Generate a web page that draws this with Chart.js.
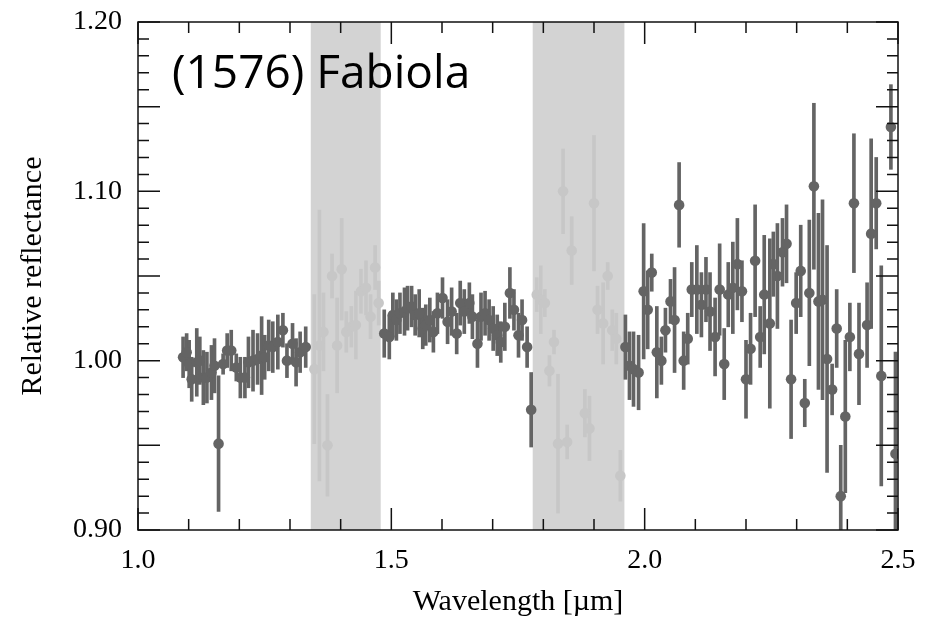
<!DOCTYPE html>
<html>
<head>
<meta charset="utf-8">
<script src="https://cdn.jsdelivr.net/npm/chart.js@4.4.1/dist/chart.umd.min.js"></script>
<style>
    html, body { margin: 0; padding: 0; background: #ffffff; }
    #wrap { width: 930px; height: 622px; }
</style>
</head>
<body>
<div id="wrap"><canvas id="myChart"></canvas></div>
<script>

var titulo = '(1576) Fabiola'

// points outside the telluric bands
var wave = [1.089, 1.096, 1.101, 1.106, 1.116, 1.122, 1.129, 1.136, 1.145, 1.151, 1.159, 1.168, 1.176, 1.184, 1.194, 1.202,
    1.211, 1.218, 1.227, 1.236, 1.244, 1.250, 1.258, 1.266, 1.276, 1.286, 1.294, 1.305, 1.312, 1.320, 1.331,
    1.486, 1.496, 1.503, 1.510, 1.517, 1.526, 1.532, 1.540, 1.547, 1.555, 1.562, 1.568, 1.576, 1.583, 1.591, 1.601,
    1.611, 1.619, 1.629, 1.636, 1.644, 1.654, 1.660, 1.670, 1.677, 1.685, 1.693, 1.701, 1.709, 1.716, 1.724, 1.734,
    1.742, 1.751, 1.758, 1.768, 1.776,
    1.962, 1.970, 1.978, 1.988, 1.998, 2.006, 2.014, 2.024, 2.033, 2.041, 2.051, 2.059, 2.068, 2.077, 2.085, 2.093,
    2.103, 2.112, 2.121, 2.129, 2.139, 2.148, 2.157, 2.165, 2.174, 2.183, 2.192, 2.200, 2.209, 2.218, 2.228, 2.236,
    2.247, 2.254, 2.262, 2.272, 2.280, 2.289, 2.299, 2.308, 2.316, 2.325, 2.334, 2.343, 2.351, 2.360, 2.370, 2.379,
    2.387, 2.396, 2.405, 2.413, 2.423, 2.439, 2.447, 2.457, 2.467, 2.486, 2.495]

var refl = [1.002, 1.005, 0.998, 0.989, 0.999, 1.000, 0.990, 0.990, 0.993, 0.997, 0.951, 0.998, 1.006, 1.006, 0.996, 0.990,
    0.990, 0.999, 1.000, 1.001, 1.003, 1.002, 1.009, 1.008, 1.011, 1.018, 1.000, 1.010, 0.999, 1.005, 1.008,
    1.016, 1.014, 1.027, 1.024, 1.028, 1.029, 1.031, 1.032, 1.027, 1.028, 1.019, 1.021, 1.024, 1.017, 1.028, 1.037,
    1.023, 1.029, 1.016, 1.034, 1.029, 1.034, 1.026, 1.010, 1.026, 1.028, 1.024, 1.019, 1.015, 1.011, 1.020, 1.040,
    1.030, 1.015, 1.024, 1.008, 0.971,
    1.008, 0.997, 0.995, 0.993, 1.041, 1.030, 1.052, 1.005, 1.000, 1.018, 1.035, 1.024, 1.092, 1.000, 1.013, 1.042,
    1.042, 1.033, 1.042, 1.029, 1.014, 1.042, 0.998, 1.039, 1.043, 1.057, 1.041, 0.989, 1.007, 1.059, 1.014, 1.039,
    1.022, 1.057, 1.050, 1.064, 1.069, 0.989, 1.034, 1.053, 0.975, 1.040, 1.103, 1.035, 1.036, 1.001, 0.983, 1.019,
    0.920, 0.967, 1.014, 1.093, 1.004, 1.021, 1.075, 1.093, 0.991, 1.138, 0.945]

var erro = [0.012, 0.011, 0.014, 0.013, 0.020, 0.014, 0.016, 0.015, 0.016, 0.016, 0.040, 0.006, 0.010, 0.012, 0.008, 0.012,
    0.012, 0.015, 0.018, 0.015, 0.023, 0.013, 0.015, 0.015, 0.016, 0.010, 0.010, 0.012, 0.014, 0.012, 0.012,
    0.014, 0.013, 0.013, 0.012, 0.012, 0.014, 0.013, 0.012, 0.012, 0.014, 0.012, 0.012, 0.013, 0.012, 0.012, 0.012,
    0.013, 0.014, 0.012, 0.013, 0.013, 0.012, 0.013, 0.014, 0.014, 0.013, 0.012, 0.013, 0.012, 0.012, 0.014, 0.015,
    0.012, 0.013, 0.012, 0.012, 0.022,
    0.019, 0.020, 0.022, 0.022, 0.040, 0.023, 0.011, 0.027, 0.014, 0.013, 0.013, 0.031, 0.025, 0.017, 0.015, 0.016,
    0.026, 0.019, 0.019, 0.023, 0.023, 0.027, 0.021, 0.019, 0.027, 0.027, 0.018, 0.023, 0.021, 0.033, 0.018, 0.035,
    0.050, 0.019, 0.031, 0.020, 0.023, 0.035, 0.018, 0.027, 0.014, 0.043, 0.049, 0.052, 0.059, 0.067, 0.015, 0.023,
    0.030, 0.045, 0.020, 0.041, 0.030, 0.025, 0.056, 0.027, 0.065, 0.025, 0.060]

// points inside the shaded bands (drawn faint)
var waveBanda = [1.348, 1.358, 1.366, 1.374, 1.383, 1.393, 1.402, 1.411, 1.421, 1.430, 1.440, 1.450, 1.459, 1.468, 1.475,
    1.787, 1.795, 1.803, 1.812, 1.821, 1.829, 1.839, 1.847, 1.856, 1.882, 1.891, 1.900, 1.907, 1.918, 1.927, 1.936,
    1.944, 1.952]
var reflBanda = [0.995, 1.009, 1.017, 0.950, 1.050, 1.009, 1.054, 1.017, 1.020, 1.021, 1.041, 1.043, 1.026, 1.055, 1.034,
    1.039, 1.036, 1.034, 0.994, 1.011, 0.951, 1.100, 0.952, 1.065, 0.969, 0.960, 1.093, 1.030, 1.022, 1.050, 1.018,
    1.013, 0.932]
var erroBanda = [0.044, 0.080, 0.023, 0.030, 0.013, 0.028, 0.030, 0.012, 0.012, 0.020, 0.013, 0.016, 0.013, 0.013, 0.013,
    0.010, 0.020, 0.008, 0.009, 0.007, 0.041, 0.025, 0.010, 0.020, 0.014, 0.019, 0.040, 0.014, 0.024, 0.008, 0.012,
    0.015, 0.015]

var bandas = [[1.341, 1.479], [1.779, 1.960]]

var xTicks = [1.0, 1.5, 2.0, 2.5]
var yTicks = [0.90, 1.00, 1.10, 1.20]

var corPonto = '#646464'
var corFraca = '#c7c7c7'
var corBanda = '#d3d3d3'

function montarPontos(xs, ys) {
    var lista = []
    for (var i = 0; i < xs.length; i++) {
        lista.push({ x: xs[i], y: ys[i] })
    }
    return lista
}

function montarBarras(xs, ys, es) {
    var lista = []
    for (var i = 0; i < xs.length; i++) {
        lista.push({ x: xs[i], y: [ys[i] - es[i], ys[i] + es[i]] })
    }
    return lista
}

// shaded bands behind the data
var pluginBandas = {
    id: 'bandas',
    beforeDatasetsDraw: function (chart) {
        var ctx = chart.ctx
        var area = chart.chartArea
        var x = chart.scales.x
        ctx.save()
        ctx.fillStyle = corBanda
        for (var i = 0; i < bandas.length; i++) {
            var x0 = x.getPixelForValue(bandas[i][0])
            var x1 = x.getPixelForValue(bandas[i][1])
            ctx.fillRect(x0, area.top, x1 - x0, area.bottom - area.top)
        }
        ctx.restore()
    }
}

// frame, inward ticks on all four sides, label text
var pluginMoldura = {
    id: 'moldura',
    afterDraw: function (chart) {
        var ctx = chart.ctx
        var area = chart.chartArea
        var sx = chart.scales.x
        var sy = chart.scales.y
        ctx.save()
        ctx.strokeStyle = '#111111'
        ctx.lineWidth = 1.5
        ctx.strokeRect(area.left, area.top, area.right - area.left, area.bottom - area.top)

        ctx.beginPath()
        sy.ticks.forEach(function (t) {
            var py = sy.getPixelForValue(t.value)
            var centesimos = Math.round(t.value * 100)
            var len = (centesimos % 5 === 0) ? 22 : 11
            ctx.moveTo(area.left, py)
            ctx.lineTo(area.left + len, py)
            ctx.moveTo(area.right, py)
            ctx.lineTo(area.right - len, py)
        })
        sx.ticks.forEach(function (t) {
            var px = sx.getPixelForValue(t.value)
            var decimos = Math.round(t.value * 10)
            var len = (decimos % 5 === 0) ? 22 : 11
            ctx.moveTo(px, area.bottom)
            ctx.lineTo(px, area.bottom - len)
            ctx.moveTo(px, area.top)
            ctx.lineTo(px, area.top + len)
        })
        ctx.stroke()

        ctx.fillStyle = '#000000'
        ctx.font = '46px "Open Sans"'
        ctx.textBaseline = 'alphabetic'
        ctx.textAlign = 'left'
        ctx.fillText(titulo, area.left + 34, area.top + 66)
        ctx.restore()
    }
}

var ctx = document.getElementById('myChart')

var grafico = new Chart(ctx, {
    type: 'scatter',
    data: {
        datasets: [
            {
                type: 'scatter',
                data: montarPontos(wave, refl),
                backgroundColor: corPonto,
                borderWidth: 0,
                pointRadius: 5.3,
                order: 1
            },
            {
                type: 'bar',
                data: montarBarras(wave, refl, erro),
                backgroundColor: corPonto,
                borderWidth: 0,
                barThickness: 3,
                grouped: false,
                order: 2
            },
            {
                type: 'scatter',
                data: montarPontos(waveBanda, reflBanda),
                backgroundColor: corFraca,
                borderWidth: 0,
                pointRadius: 5.3,
                order: 3
            },
            {
                type: 'bar',
                data: montarBarras(waveBanda, reflBanda, erroBanda),
                backgroundColor: corFraca,
                borderWidth: 0,
                barThickness: 3,
                grouped: false,
                order: 4
            }
        ]
    },
    options: {
        responsive: true,
        maintainAspectRatio: false,
        animation: false,
        events: [],
        layout: { padding: { top: 22, right: 32, left: 0, bottom: 0 } },
        plugins: {
            legend: { display: false },
            tooltip: { enabled: false }
        },
        scales: {
            x: {
                type: 'linear',
                min: 1.0,
                max: 2.5,
                offset: false,
                grid: { display: false, drawTicks: false, offset: false },
                border: { display: false },
                ticks: {
                    stepSize: 0.1,
                    autoSkip: false,
                    maxRotation: 0,
                    padding: 14,
                    color: '#000000',
                    font: { family: '"Liberation Serif", "DejaVu Serif", serif', size: 28 },
                    callback: function (value) {
                        var v = Math.round(value * 10) / 10
                        return xTicks.indexOf(v) != -1 ? v.toFixed(1) : ''
                    }
                },
                title: {
                    display: true,
                    text: 'Wavelength [µm]',
                    color: '#000000',
                    padding: { top: 0, bottom: 2 },
                    font: { family: '"Liberation Serif", "DejaVu Serif", serif', size: 30 }
                },
                afterFit: function (scale) {
                    scale.height = 92
                    scale.paddingLeft = 0
                    scale.paddingRight = 0
                }
            },
            y: {
                type: 'linear',
                min: 0.90,
                max: 1.20,
                grid: { display: false, drawTicks: false },
                border: { display: false },
                ticks: {
                    stepSize: 0.01,
                    autoSkip: false,
                    padding: 16,
                    color: '#000000',
                    font: { family: '"Liberation Serif", "DejaVu Serif", serif', size: 28 },
                    callback: function (value) {
                        var v = Math.round(value * 100) / 100
                        return yTicks.indexOf(v) != -1 ? v.toFixed(2) : ''
                    }
                },
                title: {
                    display: true,
                    text: 'Relative reflectance',
                    color: '#000000',
                    padding: { top: 15, bottom: 0 },
                    font: { family: '"Liberation Serif", "DejaVu Serif", serif', size: 30 }
                },
                afterFit: function (scale) {
                    scale.width = 138
                    scale.paddingTop = 0
                    scale.paddingBottom = 0
                }
            }
        }
    },
    plugins: [pluginBandas, pluginMoldura]
});

</script>
</body>
</html>
